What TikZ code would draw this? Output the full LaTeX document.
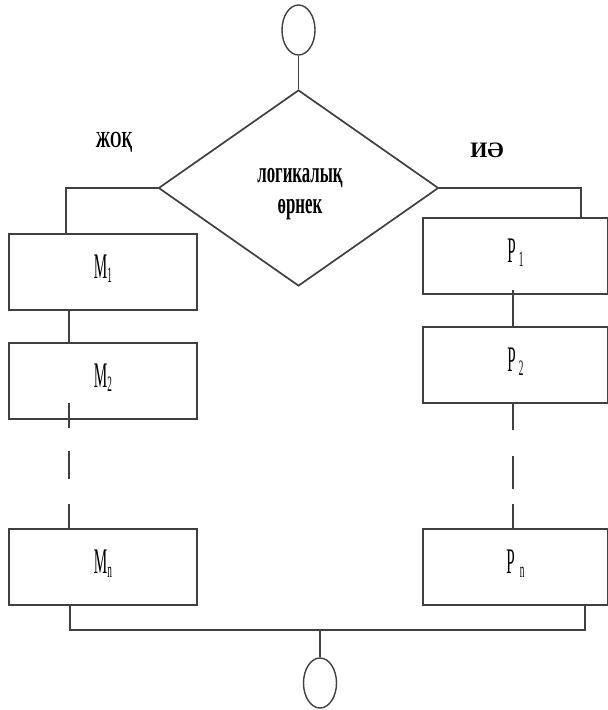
\documentclass[tikz,border=0pt]{standalone}
\usepackage{fontspec}
\setmainfont{Liberation Serif}
\newfontfamily\boxfont[FakeStretch=0.42]{Liberation Serif}
\newfontfamily\labfont[FakeStretch=0.56]{Liberation Serif Bold}
\newfontfamily\nofont[FakeStretch=0.64]{Liberation Serif Bold}
\newfontfamily\yesfont{Liberation Serif Bold}
\usetikzlibrary{shapes.geometric}
% lowered index after a block name
\newcommand\lsub[1]{\raisebox{-4pt}{\fontsize{22}{22}\selectfont #1}}

\begin{document}
\begin{tikzpicture}[x=1pt,y=-1pt,
  line/.style={draw=black!75, line width=1.7pt},
  thinline/.style={draw=black!75, line width=1.2pt},
  terminal/.style={ellipse, draw=black!75, line width=1.4pt,
    minimum width=33pt, minimum height=50pt, inner sep=0pt},
  decision/.style={diamond, draw=black!75, line width=1.7pt,
    minimum width=280pt, minimum height=196pt, inner sep=0pt},
  dectext/.style={align=center, inner sep=0pt,
    font=\labfont\fontsize{30}{31}\selectfont},
  opbox/.style={rectangle, draw=black!75, line width=1.7pt,
    minimum height=76pt, inner sep=0pt, text height=18pt, text depth=6pt,
    font=\boxfont\fontsize{36}{36}\selectfont},
  mbox/.style={opbox, minimum width=188pt},
  pbox/.style={opbox, minimum width=185pt},
  branch/.style={anchor=base, inner sep=0pt}
]
\useasboundingbox (0,0) rectangle (608,710);
\clip (0,0) rectangle (608,710);

% start and decision
\node[terminal] (start) at (298.5,30) {};
\node[decision] (dec) at (298.5,188) {};
\node[dectext] (dectxt) at (300,194) {логикалық\\өрнек};
\node[branch, font=\nofont\fontsize{23}{23}\selectfont] (no) at (114,147) {ЖОҚ};
\node[branch, font=\yesfont\fontsize{22}{22}\selectfont] (yes) at (487,157) {ИӘ};

% "no" branch
\node[mbox] (M1) at (103,272) {M\lsub{1}};
\node[mbox] (M2) at (103,381) {M\lsub{2}};
\node[mbox] (Mn) at (103,567) {M\lsub{n}};

% "yes" branch
\node[pbox] (P1) at (515.5,256) {P\kern3pt\lsub{1}};
\node[pbox] (P2) at (515.5,365) {P\kern3pt\lsub{2}};
\node[pbox] (Pn) at (515.5,567) {P\kern5pt\lsub{n}};

% end
\node[terminal] (stop) at (320,683) {};

\coordinate (lj) at (66,188);
\coordinate (rj) at (581,188);
\coordinate (bl) at (70,630);
\coordinate (br) at (585,630);
\coordinate (bm) at (320,630);

% connectors
\draw[thinline] (start.south) -- (dec.north);
\draw[line] (dec.west) -- (lj) -- (lj |- M1.north);
\draw[line] (dec.east) -- (rj) -- (rj |- P1.north);

\draw[thinline] ([xshift=-34pt]M1.south) -- ([xshift=-34pt]M2.north);
\draw[thinline, dash pattern=on 25pt off 23pt on 28pt off 25pt]
  ([xshift=-34pt,yshift=17pt]M2.south) -- ([xshift=-34pt]Mn.north);

\draw[thinline] ([xshift=-2.5pt,yshift=5pt]P1.south) -- ([xshift=-2.5pt]P2.north);
\draw[thinline, dash pattern=on 26pt off 26pt on 33pt off 15pt]
  ([xshift=-2.5pt]P2.south) -- ([xshift=-2.5pt]Pn.north);

\draw[line] ([xshift=-33pt]Mn.south) -- (bl) -- (br) -- ([xshift=69.5pt]Pn.south);
\draw[thinline] (bm) -- (stop.north);
\end{tikzpicture}
\end{document}
